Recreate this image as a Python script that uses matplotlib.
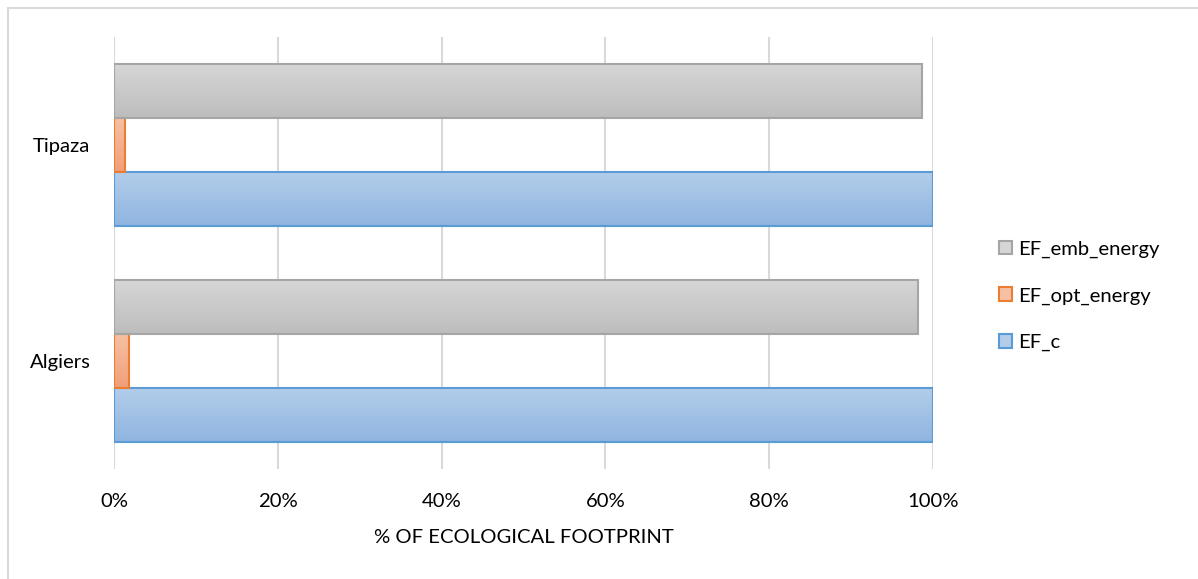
import numpy as np
import matplotlib
matplotlib.use("Agg")
import matplotlib.pyplot as plt
from matplotlib.patches import Rectangle, Patch
from matplotlib.colors import LinearSegmentedColormap

plt.rcParams['font.family'] = ['Lato', 'DejaVu Sans']

# Data: share of ecological footprint (fraction of EF_c)
cities = ["Algiers", "Tipaza"]
series_names = ["EF_c", "EF_opt_energy", "EF_emb_energy"]
ef_c = [1.00, 1.00]
ef_opt_energy = [0.018, 0.014]
ef_emb_energy = [0.982, 0.986]
x_ticks = [0.0, 0.2, 0.4, 0.6, 0.8, 1.0]
x_tick_labels = ["0%", "20%", "40%", "60%", "80%", "100%"]

# Styles: (gradient top, gradient bottom, edge)
styles = {
    "EF_c": ("#b3cde9", "#8fb5e1", "#5b9bd5"),
    "EF_opt_energy": ("#f6c0a4", "#f19f78", "#ed7d31"),
    "EF_emb_energy": ("#d6d6d6", "#bdbdbd", "#a5a5a5"),
}

FS = 14.6
W, H = 1198, 579
fig = plt.figure(figsize=(W / 100, H / 100), dpi=100)
ax = fig.add_axes([114 / W, 1 - 469 / H, 819 / W, 432 / H])

# chart frame
fig.patches.append(Rectangle((7.5 / W, -0.1), 1.2, 1 - 7.5 / H + 0.1,
                             transform=fig.transFigure, fill=False,
                             edgecolor="#d9d9d9", lw=1.5, zorder=0))

bar_h = 0.25
y = np.arange(len(cities))
values = [ef_c, ef_opt_energy, ef_emb_energy]
offsets = [-bar_h, 0.0, bar_h]

def gradient_bar(rect, top, bottom):
    cmap = LinearSegmentedColormap.from_list("g", [bottom, top])
    grad = np.linspace(0, 1, 64).reshape(-1, 1)
    x0, y0 = rect.get_x(), rect.get_y()
    w, h = rect.get_width(), rect.get_height()
    im = ax.imshow(grad, cmap=cmap, origin="lower", aspect="auto",
                   extent=(x0, x0 + w, y0, y0 + h), zorder=2,
                   interpolation="bilinear")
    im.set_clip_path(rect)

for name, vals, off in zip(series_names, values, offsets):
    top, bottom, edge = styles[name]
    bars = ax.barh(y + off, vals, height=bar_h, facecolor="none",
                   edgecolor=edge, linewidth=1.5, zorder=3, label=name)
    for rect in bars:
        gradient_bar(rect, top, bottom)

ax.set_xlim(0, 1)
ax.set_ylim(-0.5, 1.5)
ax.set_xticks(x_ticks)
ax.set_xticklabels(x_tick_labels)
ax.set_yticks(y)
ax.set_yticklabels(cities)
ax.grid(axis="x", color="#d9d9d9", lw=1.5, zorder=0)
ax.set_axisbelow(True)
for s in ax.spines.values():
    s.set_visible(False)
ax.tick_params(axis="both", length=0, labelsize=FS, colors="#000000")
ax.tick_params(axis="x", pad=17)
ax.tick_params(axis="y", pad=17)
ax.set_xlabel("% OF ECOLOGICAL FOOTPRINT", fontsize=FS, labelpad=14)

handles = [Patch(facecolor=styles[n][0], edgecolor=styles[n][2], lw=1.5, label=n)
           for n in reversed(series_names)]
fig.legend(handles=handles, loc="center left", bbox_to_anchor=(981 / W, 1 - 296 / H),
           frameon=False, fontsize=FS, handlelength=0.65, handleheight=0.65,
           handletextpad=0.3, labelspacing=1.45)

fig.savefig("out.png", dpi=100)
